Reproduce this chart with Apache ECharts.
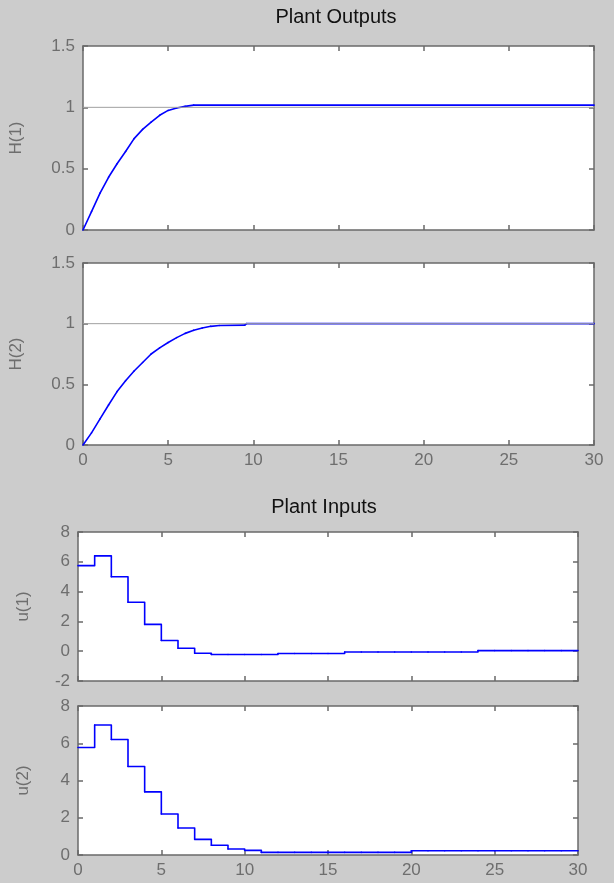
<!DOCTYPE html>
<html>
<head>
<meta charset="utf-8">
<script src="https://cdn.jsdelivr.net/npm/echarts@6/dist/echarts.min.js"></script>
<style>
  html, body { margin: 0; padding: 0; background: #cccccc; }
  #chart { width: 614px; height: 883px; }
</style>
</head>
<body>
<div id="chart"></div>
<script>
// plant outputs (time, value)
const h1Time = [0, 0.5, 1, 1.5, 2, 2.5, 3, 3.5, 4, 4.5, 5, 5.5, 6, 6.5, 30]
const h1Vals = [0, 0.15, 0.3, 0.43, 0.54, 0.64, 0.745, 0.82, 0.88, 0.935, 0.975, 0.995, 1.008, 1.018, 1.018]
const h2Time = [0, 0.5, 1, 1.5, 2, 2.5, 3, 3.5, 4, 4.5, 5, 5.5, 6, 6.5, 7, 7.5, 8, 9.5, 9.6, 30]
const h2Vals = [0, 0.1, 0.215, 0.33, 0.44, 0.53, 0.61, 0.68, 0.75, 0.8, 0.845, 0.885, 0.92, 0.945, 0.965, 0.978, 0.985, 0.988, 1.0, 1.0]
const refTime = [0, 30]
const refVals = [1, 1]

// plant inputs, one value per sample (t = 0..30)
const uTime = [0, 1, 2, 3, 4, 5, 6, 7, 8, 9, 10, 11, 12, 13, 14, 15, 16, 17, 18, 19, 20, 21, 22, 23, 24, 25, 26, 27, 28, 29, 30]
const u1Vals = [5.74, 6.4, 5.0, 3.29, 1.8, 0.72, 0.2, -0.14, -0.22, -0.22, -0.22, -0.22, -0.15, -0.15, -0.15, -0.15,
  -0.05, -0.05, -0.05, -0.05, -0.05, -0.05, -0.05, -0.05, 0.04, 0.04, 0.04, 0.04, 0.04, 0.04, 0.04]
const u2Vals = [5.77, 6.98, 6.2, 4.75, 3.39, 2.2, 1.45, 0.84, 0.52, 0.32, 0.25, 0.14, 0.14, 0.14, 0.14, 0.14,
  0.14, 0.14, 0.14, 0.14, 0.23, 0.23, 0.23, 0.23, 0.23, 0.23, 0.23, 0.23, 0.23, 0.23, 0.23]

const xTicks = [0, 30, 5]
const yLabels = ['H(1)', 'H(2)', 'u(1)', 'u(2)']

const pair = (t, v) => t.map((x, i) => [x, v[i]])
// consecutive points -> [t0, v0, t1, v1]
const segs = (t, v) => t.slice(0, -1).map((x, i) => [x, v[i], t[i + 1], v[i + 1]])

const boxColor = '#6a6a6a'
const textColor = '#6e6e6e'
const font = 'Arial, "Liberation Sans", sans-serif'
const lineStyleBlue = { stroke: '#0000ff', lineWidth: 1.6, lineCap: 'round', lineJoin: 'round', fill: null }

const grids = [
  { left: 83, top: 46, width: 511, height: 184 },
  { left: 83, top: 263, width: 511, height: 182 },
  { left: 78, top: 532, width: 500, height: 149 },
  { left: 78, top: 706, width: 500, height: 149 }
]
const yRanges = [[0, 1.5, 0.5], [0, 1.5, 0.5], [-2, 8, 2], [0, 8, 2]]
const nameGaps = [58, 58, 46, 46]

const xAxes = []
const yAxes = []
grids.forEach((g, i) => {
  const showX = i === 1 || i === 3
  ;['bottom', 'top'].forEach(pos => {
    xAxes.push({
      type: 'value', gridIndex: i, position: pos,
      min: xTicks[0], max: xTicks[1], interval: xTicks[2],
      axisLine: { show: true, onZero: false, lineStyle: { color: boxColor, width: 1.5 } },
      axisTick: { show: true, inside: true, length: 5, lineStyle: { color: boxColor, width: 1.5 } },
      axisLabel: { show: showX && pos === 'bottom', color: textColor, fontSize: 17, fontFamily: font, margin: 7 },
      splitLine: { show: false }
    })
  })
  ;['left', 'right'].forEach(pos => {
    yAxes.push({
      type: 'value', gridIndex: i, position: pos,
      min: yRanges[i][0], max: yRanges[i][1], interval: yRanges[i][2],
      name: pos === 'left' ? yLabels[i] : '',
      nameLocation: 'middle', nameGap: nameGaps[i],
      nameTextStyle: { color: textColor, fontSize: 17, fontFamily: font },
      axisLine: { show: true, onZero: false, lineStyle: { color: boxColor, width: 1.5 } },
      axisTick: { show: true, inside: true, length: 5, lineStyle: { color: boxColor, width: 1.5 } },
      axisLabel: { show: pos === 'left', color: textColor, fontSize: 17, fontFamily: font, margin: 8 },
      splitLine: { show: false }
    })
  })
})

// straight segment between two samples
function curveItem(params, api) {
  const p0 = api.coord([api.value(0), api.value(1)])
  const p1 = api.coord([api.value(2), api.value(3)])
  return { type: 'line', shape: { x1: p0[0], y1: p0[1], x2: p1[0], y2: p1[1] }, style: lineStyleBlue }
}
// zero-order hold: flat at v0 until t1, then jump to v1
function stepItem(params, api) {
  const p0 = api.coord([api.value(0), api.value(1)])
  const p1 = api.coord([api.value(2), api.value(1)])
  const p2 = api.coord([api.value(2), api.value(3)])
  return { type: 'polyline', shape: { points: [p0, p1, p2] }, style: lineStyleBlue }
}

const custom = (axis, data, fn) => ({
  type: 'custom', xAxisIndex: axis, yAxisIndex: axis, data: data, renderItem: fn,
  encode: { x: [0, 2], y: [1, 3] }
})

const series = [
  { type: 'line', xAxisIndex: 0, yAxisIndex: 0, symbol: 'none', data: pair(refTime, refVals), lineStyle: { color: '#a0a0a0', width: 1 } },
  custom(0, segs(h1Time, h1Vals), curveItem),
  { type: 'line', xAxisIndex: 2, yAxisIndex: 2, symbol: 'none', data: pair(refTime, refVals), lineStyle: { color: '#a0a0a0', width: 1 } },
  custom(2, segs(h2Time, h2Vals), curveItem),
  custom(4, segs(uTime, u1Vals), stepItem),
  custom(6, segs(uTime, u2Vals), stepItem)
].map(s => Object.assign({ silent: true, animation: false }, s))

const myChart = echarts.init(document.getElementById('chart'))
myChart.setOption({
  backgroundColor: '#cccccc',
  animation: false,
  title: [
    { text: 'Plant Outputs', left: 336, top: 7, textAlign: 'center', padding: 0,
      textStyle: { color: '#111', fontSize: 20, fontWeight: 'normal', fontFamily: font } },
    { text: 'Plant Inputs', left: 324, top: 497, textAlign: 'center', padding: 0,
      textStyle: { color: '#111', fontSize: 20, fontWeight: 'normal', fontFamily: font } }
  ],
  grid: grids.map(g => Object.assign({ show: true, backgroundColor: '#ffffff', borderWidth: 0 }, g)),
  xAxis: xAxes,
  yAxis: yAxes,
  series: series
})
</script>
</body>
</html>
